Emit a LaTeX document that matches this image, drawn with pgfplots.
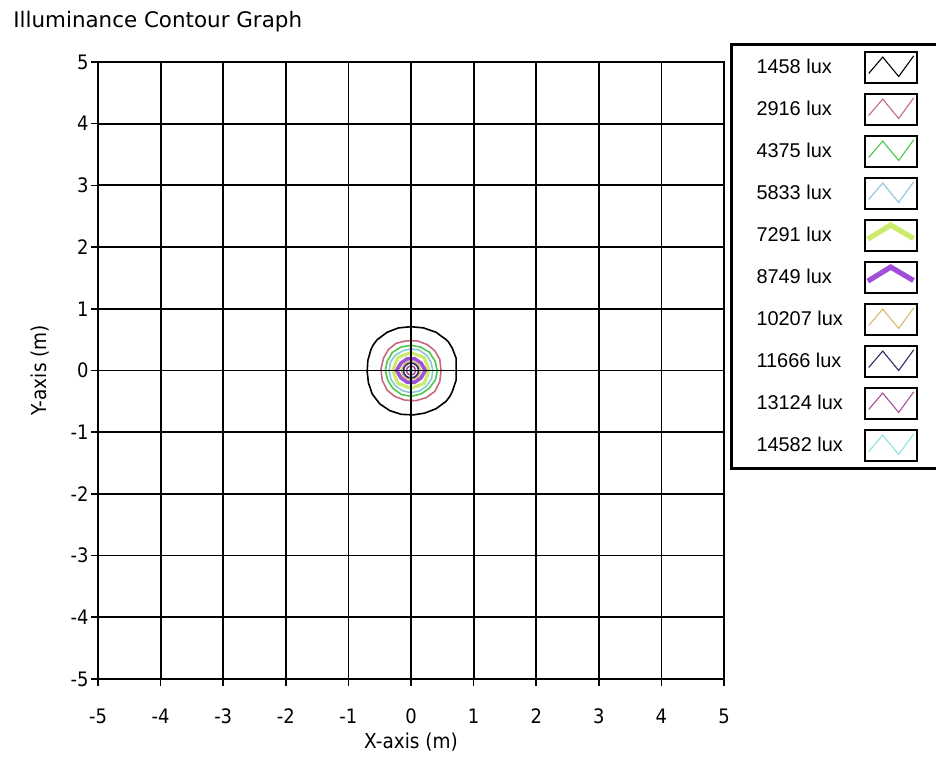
\documentclass[border=0pt]{standalone}
\usepackage{fontspec}
\setmainfont{Liberation Sans}
\newfontfamily\tickfont{DejaVu Sans Condensed}
\newfontfamily\titlefont{DejaVu Sans}
\usepackage{pgfplots}
\pgfplotsset{compat=1.18}
\definecolor{cA}{HTML}{000000}
\definecolor{cB}{HTML}{C46A7C}
\definecolor{cC}{HTML}{4CC84C}
\definecolor{cD}{HTML}{8CC8D8}
\definecolor{cE}{HTML}{CDEB6A}
\definecolor{cF}{HTML}{A050D8}
\definecolor{cG}{HTML}{D6BC6C}
\definecolor{cH}{HTML}{2C2C6C}
\definecolor{cI}{HTML}{A8509C}
\definecolor{cJ}{HTML}{8CE2E2}
\pgfplotsset{
 zigbox/.style={legend image code/.code={
   \path[draw=none,fill=none] (0bp,-10.5bp) rectangle (34bp,10.5bp);
   \draw[black,line width=0.8bp,fill=white,solid] (0bp,-7.75bp) rectangle (26bp,7.75bp);
   \draw[##1,line width=0.55bp] (2bp,-3bp) -- (9bp,5.2bp) -- (17bp,-4.5bp) -- (24.5bp,5.8bp);
 }},
 chevbox/.style={legend image code/.code={
   \path[draw=none,fill=none] (0bp,-10.5bp) rectangle (34bp,10.5bp);
   \draw[black,line width=0.8bp,fill=white,solid] (0bp,-7.75bp) rectangle (26bp,7.75bp);
   \draw[##1,line width=2.6bp] (1.6bp,-1.8bp) -- (13bp,5.2bp) -- (24.4bp,-1.5bp);
 }},
}
\begin{document}
\begin{tikzpicture}
\path[use as bounding box] (-49bp,-41bp) rectangle (419bp,339.5bp);
\begin{axis}[
 scale only axis, width=313bp, height=308.5bp,
 xmin=-5, xmax=5, ymin=-5, ymax=5,
 xtick={-5,-4,...,5}, ytick={-5,-4,...,5},
 grid=major, major grid style={black, line width=0.9bp},
 axis line style={black, line width=1bp},
 axis on top,
 tick align=outside, major tick length=3.5bp, tick style={black, line width=0.8bp},
 xtick pos=left, ytick pos=left,
 /pgf/number format/assume math mode=true,
 tick label style={font=\tickfont\fontsize{10}{12}\selectfont},
 xticklabel style={anchor=base, yshift=-18.5bp, inner sep=0pt},
 yticklabel style={anchor=east, xshift=-1bp, inner sep=0pt},
 xlabel={X-axis (m)},
 xlabel style={at={(axis description cs:0.5,-0.1021)}, anchor=center, font=\tickfont\fontsize{10.3}{12}\selectfont, inner sep=0pt},
 ylabel={Y-axis (m)},
 ylabel style={at={(axis description cs:-0.0927,0.5)}, anchor=center, font=\tickfont\fontsize{10.3}{12}\selectfont, inner sep=0pt},
 title={Illuminance Contour Graph},
 title style={at={(axis description cs:-0.1358,1.0373)}, anchor=base west, font=\titlefont\fontsize{10.75}{12}\selectfont, inner sep=0pt},
 legend plot pos=right,
 legend cell align=left,
 legend style={at={(axis description cs:1,1)}, anchor=north west, xshift=3bp, yshift=9.5bp,
   draw=black, line width=1.5bp, fill=white, inner xsep=10.5bp, inner ysep=1bp,
   row sep=0pt, /tikz/column sep=8.5bp, font=\fontsize{10}{12}\selectfont,
   cells={anchor=west, inner sep=0pt}},
]
\addplot[cA, line width=0.8bp, zigbox] coordinates {
(0.72,0.00) (0.72,0.20) (0.66,0.36) (0.60,0.46) (0.56,0.50) (0.48,0.56) (0.40,0.62) (0.20,0.69) (0.00,0.71) (-0.20,0.69) (-0.38,0.62) (-0.46,0.56) (-0.54,0.50) (-0.60,0.42) (-0.64,0.34) (-0.69,0.16) (-0.70,-0.02) (-0.68,-0.20) (-0.62,-0.38) (-0.56,-0.46) (-0.50,-0.54) (-0.34,-0.65) (-0.16,-0.71) (0.04,-0.72) (0.22,-0.69) (0.40,-0.62) (0.48,-0.56) (0.56,-0.50) (0.62,-0.42) (0.66,-0.34) (0.72,-0.16) (0.72,0.00)};
\addlegendentry{1458 lux}
\addplot[cB, line width=0.8bp, zigbox] coordinates {
(0.48,0.00) (0.46,0.18) (0.38,0.32) (0.26,0.42) (0.10,0.48) (-0.08,0.48) (-0.24,0.44) (-0.36,0.34) (-0.44,0.20) (-0.48,0.02) (-0.46,-0.16) (-0.38,-0.32) (-0.26,-0.42) (-0.10,-0.48) (0.08,-0.49) (0.24,-0.44) (0.38,-0.34) (0.46,-0.18) (0.48,0.00)};
\addlegendentry{2916 lux}
\addplot[cC, line width=0.8bp, zigbox] coordinates {
(0.42,0) (0.38,0.16) (0.29,0.30) (0.15,0.38) (0,0.41) (-0.16,0.38) (-0.30,0.29) (-0.38,0.15) (-0.41,0) (-0.37,-0.16) (-0.29,-0.29) (-0.15,-0.39) (0,-0.42) (0.16,-0.38) (0.29,-0.29) (0.39,-0.15) (0.42,0)};
\addlegendentry{4375 lux}
\addplot[cD, line width=0.8bp, zigbox] coordinates {
(0.35,0) (0.32,0.13) (0.25,0.25) (0.13,0.33) (0,0.35) (-0.13,0.32) (-0.25,0.25) (-0.33,0.13) (-0.35,0) (-0.32,-0.14) (-0.25,-0.25) (-0.13,-0.33) (0,-0.36) (0.14,-0.33) (0.25,-0.25) (0.33,-0.13) (0.35,0)};
\addlegendentry{5833 lux}
\addplot[cE, line width=1.6bp, chevbox] coordinates {
(0.29,0) (0.21,0.21) (0,0.29) (-0.21,0.21) (-0.29,0) (-0.21,-0.21) (0,-0.29) (0.21,-0.21) (0.29,0)};
\addlegendentry{7291 lux}
\addplot[cF, line width=1.8bp, chevbox] coordinates {
(0.23,0) (0.16,0.12) (0.06,0.19) (-0.06,0.19) (-0.16,0.12) (-0.23,0) (-0.16,-0.12) (-0.06,-0.19) (0.06,-0.19) (0.16,-0.12) (0.23,0)};
\addlegendentry{8749 lux}
\addplot[cG, line width=0.8bp, zigbox] coordinates {
(0.16,0) (0.11,0.11) (0,0.15) (-0.11,0.11) (-0.16,0) (-0.11,-0.11) (0,-0.15) (0.11,-0.11) (0.16,0)};
\addlegendentry{10207 lux}
\addplot[cH, line width=0.8bp, zigbox] coordinates {
(0.12,0) (0.11,0.05) (0.085,0.085) (0.05,0.11) (0,0.12) (-0.05,0.11) (-0.085,0.085) (-0.11,0.05) (-0.12,0) (-0.11,-0.05) (-0.085,-0.085) (-0.05,-0.11) (0,-0.12) (0.05,-0.11) (0.085,-0.085) (0.11,-0.05) (0.12,0)};
\addlegendentry{11666 lux}
\addplot[cI, line width=0.8bp, zigbox] coordinates {
(0.075,0) (0.053,0.053) (0,0.075) (-0.053,0.053) (-0.075,0) (-0.053,-0.053) (0,-0.075) (0.053,-0.053) (0.075,0)};
\addlegendentry{13124 lux}
\addplot[cJ, line width=0.8bp, zigbox] coordinates {
(0.035,0) (0,0.035) (-0.035,0) (0,-0.035) (0.035,0)};
\addlegendentry{14582 lux}
\end{axis}
\end{tikzpicture}
\end{document}
